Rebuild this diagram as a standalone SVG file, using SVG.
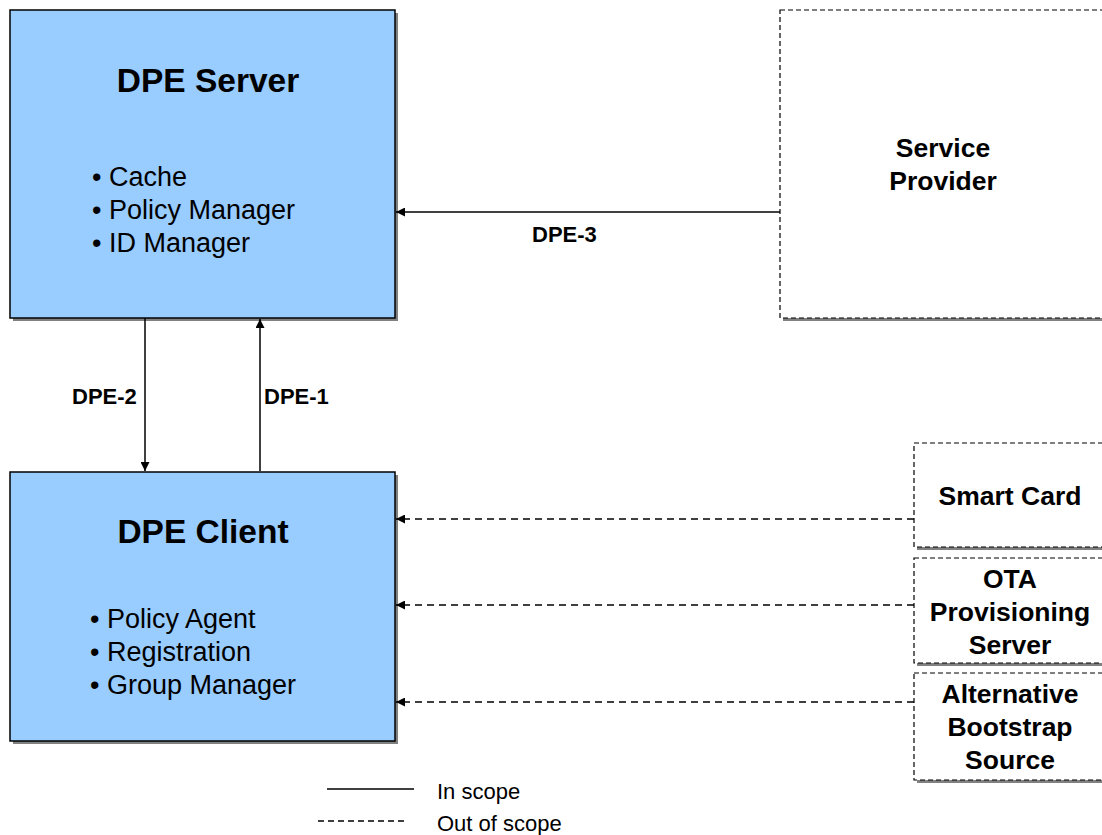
<svg xmlns="http://www.w3.org/2000/svg" width="1102" height="835" viewBox="0 0 1102 835">
  <style>
    .box { fill: #99CCFF; stroke: #000; stroke-width: 1.5; }
    .shadow { fill: #808080; }
    .ext { fill: #fff; stroke: #000; stroke-width: 1.2; stroke-dasharray: 5 3; }
    .title { font-family: "Liberation Sans", Arial, sans-serif; font-weight: bold; font-size: 33.5px; text-anchor: middle; fill: #000; }
    .item { font-family: "Liberation Sans", Arial, sans-serif; font-size: 27px; fill: #000; }
    .ename { font-family: "Liberation Sans", Arial, sans-serif; font-weight: bold; font-size: 26.5px; text-anchor: middle; fill: #000; }
    .lbl { font-family: "Liberation Sans", Arial, sans-serif; font-weight: bold; font-size: 22px; fill: #000; }
    .legend { font-family: "Liberation Sans", Arial, sans-serif; font-size: 22px; fill: #000; }
    .solid { stroke: #000; stroke-width: 1.5; fill: none; }
    .dashed { stroke: #000; stroke-width: 1.5; fill: none; stroke-dasharray: 7 5; }
  </style>
  <defs>
    <marker id="arrow" viewBox="0 0 10 10" refX="10" refY="5" markerWidth="9" markerHeight="9" markerUnits="userSpaceOnUse" orient="auto">
      <path d="M0,0 L10,5 L0,10 z" fill="#000"/>
    </marker>
  </defs>

  <!-- DPE Server -->
  <g id="dpe-server">
    <rect class="shadow" x="13" y="13" width="385" height="308"/>
    <rect class="box" x="10" y="10" width="385" height="308"/>
    <text class="title" x="208" y="92">DPE Server</text>
    <text class="item" x="92" y="186">• Cache</text>
    <text class="item" x="92" y="219">• Policy Manager</text>
    <text class="item" x="92" y="252">• ID Manager</text>
  </g>

  <!-- DPE Client -->
  <g id="dpe-client">
    <rect class="shadow" x="13" y="475" width="385" height="269"/>
    <rect class="box" x="10" y="472" width="385" height="269"/>
    <text class="title" x="203" y="543">DPE Client</text>
    <text class="item" x="90" y="628">• Policy Agent</text>
    <text class="item" x="90" y="661">• Registration</text>
    <text class="item" x="90" y="694">• Group Manager</text>
  </g>

  <!-- Service Provider -->
  <g id="service-provider">
    <rect class="shadow" x="783" y="13" width="330" height="308"/>
    <rect class="ext" x="780" y="10" width="330" height="308"/>
    <text class="ename" x="943" y="157">Service</text>
    <text class="ename" x="943" y="190">Provider</text>
  </g>

  <!-- Smart Card -->
  <g id="smart-card">
    <rect class="shadow" x="917" y="446" width="200" height="104"/>
    <rect class="ext" x="914" y="443" width="200" height="104"/>
    <text class="ename" x="1010" y="505">Smart Card</text>
  </g>

  <!-- OTA Provisioning Server -->
  <g id="ota-server">
    <rect class="shadow" x="917" y="561" width="200" height="105"/>
    <rect class="ext" x="914" y="558" width="200" height="105"/>
    <text class="ename" x="1010" y="588">OTA</text>
    <text class="ename" x="1010" y="621">Provisioning</text>
    <text class="ename" x="1010" y="654">Server</text>
  </g>

  <!-- Alternative Bootstrap Source -->
  <g id="alt-bootstrap">
    <rect class="shadow" x="917" y="676" width="200" height="107"/>
    <rect class="ext" x="914" y="673" width="200" height="107"/>
    <text class="ename" x="1010" y="703">Alternative</text>
    <text class="ename" x="1010" y="736">Bootstrap</text>
    <text class="ename" x="1010" y="769">Source</text>
  </g>

  <!-- Connectors -->
  <g id="connectors">
    <line class="solid" x1="780" y1="212" x2="396" y2="212" marker-end="url(#arrow)"/>
    <line class="solid" x1="145" y1="318" x2="145" y2="471" marker-end="url(#arrow)"/>
    <line class="solid" x1="260" y1="471" x2="260" y2="319" marker-end="url(#arrow)"/>
    <line class="dashed" x1="914" y1="519" x2="396" y2="519" marker-end="url(#arrow)"/>
    <line class="dashed" x1="914" y1="605" x2="396" y2="605" marker-end="url(#arrow)"/>
    <line class="dashed" x1="914" y1="702" x2="396" y2="702" marker-end="url(#arrow)"/>
    <text class="lbl" x="532" y="242">DPE-3</text>
    <text class="lbl" x="72" y="404">DPE-2</text>
    <text class="lbl" x="264" y="404">DPE-1</text>
  </g>

  <!-- Legend -->
  <g id="legend">
    <line class="solid" x1="327" y1="789" x2="414" y2="789"/>
    <line class="dashed" x1="318" y1="821" x2="405" y2="821" style="stroke-dasharray:6 4"/>
    <text class="legend" x="437" y="799">In scope</text>
    <text class="legend" x="437" y="831">Out of scope</text>
  </g>
</svg>
